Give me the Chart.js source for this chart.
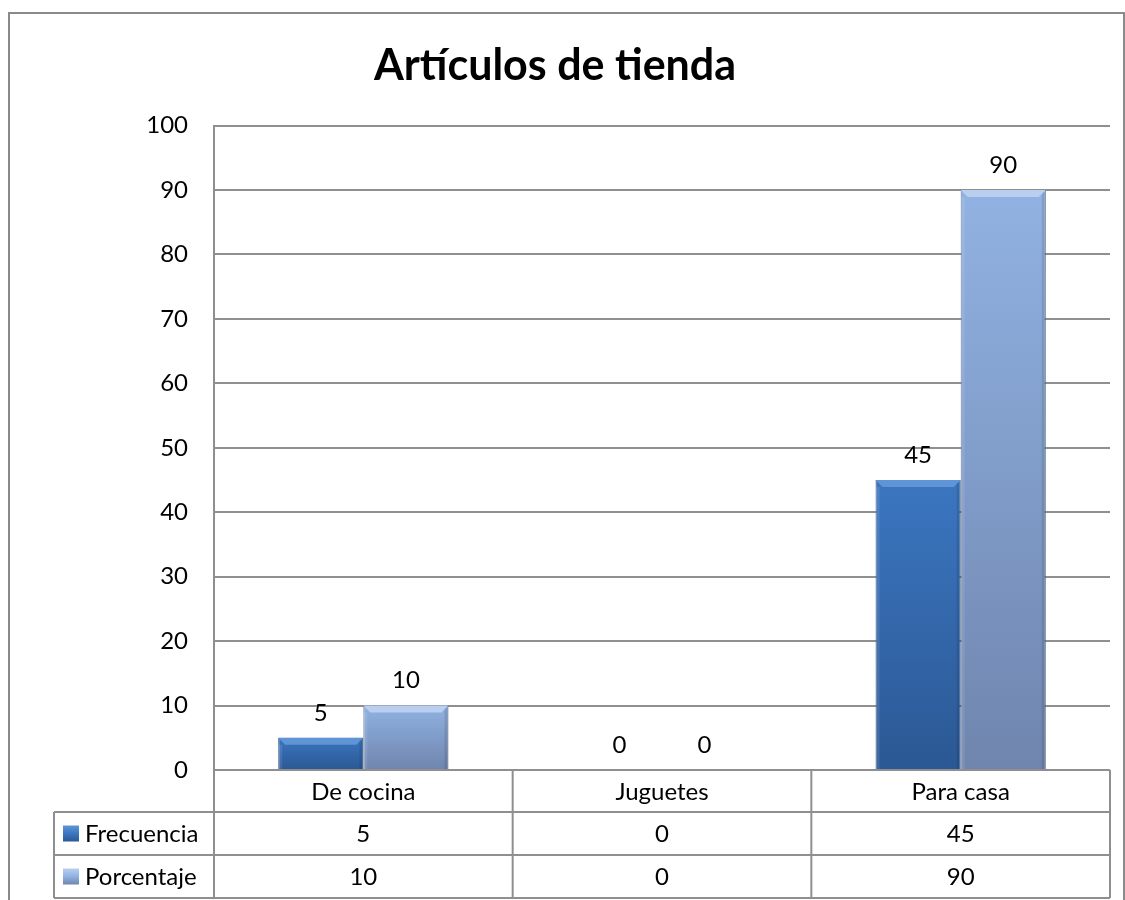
<!DOCTYPE html>
<html>
<head>
<meta charset="utf-8">
<script src="https://cdn.jsdelivr.net/npm/chart.js@4.4.1/dist/chart.umd.min.js"></script>
<style>
  html, body { margin: 0; padding: 0; background: #fff; }
  #marco {
    position: absolute; left: 8px; top: 12px; width: 1113px; height: 900px;
    border: 2px solid #8a8a8a; border-bottom: none;
  }
  #myChart { position: absolute; left: 0; top: 0; }
</style>
</head>
<body>
<div id="marco"></div>
<canvas id="myChart" width="1125" height="900"></canvas>
<script>
// datos
const categorias = ['De cocina', 'Juguetes', 'Para casa'];
const frecuencia = [5, 0, 45];
const porcentaje = [10, 0, 90];
const serieNombres = ['Frecuencia', 'Porcentaje'];
const ticksY = [0, 10, 20, 30, 40, 50, 60, 70, 80, 90, 100];

const colores = [
    { top: '#3b76c0', bottom: '#2b5894', bevel: '#5f95d6', edge: '#244d85' },
    { top: '#91b2e2', bottom: '#6f85ae', bevel: '#b9cff0', edge: '#5d7298' }
];

const fuente = 'Lato';
const GRIS = '#8f8f8f';

// degradado por barra, desde su valor hasta la base
function degradado(ctx, i) {
    const chart = ctx.chart;
    const y = chart.scales.y;
    if (!chart.chartArea || !y) return colores[i].top;
    const v = ctx.raw || 0;
    const top = y.getPixelForValue(v);
    const base = y.getPixelForValue(0);
    if (base - top < 1) return colores[i].top;
    const g = chart.ctx.createLinearGradient(0, top, 0, base);
    g.addColorStop(0, colores[i].top);
    g.addColorStop(1, colores[i].bottom);
    return g;
}

// biselado y etiquetas de valor
const barrasPlugin = {
    id: 'barras',
    afterDatasetsDraw(chart) {
        const c = chart.ctx;
        chart.data.datasets.forEach((ds, i) => {
            const meta = chart.getDatasetMeta(i);
            meta.data.forEach((bar, j) => {
                const left = bar.x - bar.width / 2;
                const right = bar.x + bar.width / 2;
                const top = bar.y;
                const base = bar.base;
                const h = base - top;
                c.save();
                if (h > 2) {
                    const b = Math.min(7, h / 2);
                    c.fillStyle = colores[i].bevel;
                    c.beginPath();
                    c.moveTo(left, top);
                    c.lineTo(right, top);
                    c.lineTo(right - b, top + b);
                    c.lineTo(left + b, top + b);
                    c.closePath();
                    c.fill();
                    c.fillStyle = 'rgba(0,0,0,0.10)';
                    c.beginPath();
                    c.moveTo(right, top);
                    c.lineTo(right, base);
                    c.lineTo(right - 4, base);
                    c.lineTo(right - 4, top + 4);
                    c.closePath();
                    c.fill();
                    c.fillStyle = 'rgba(255,255,255,0.10)';
                    c.fillRect(left, top + b, 4, h - b);
                }
                c.fillStyle = '#000';
                c.font = '24px ' + fuente;
                c.textAlign = 'center';
                c.textBaseline = 'middle';
                c.fillText(String(ds.data[j]), bar.x, top - 25);
                c.restore();
            });
        });
    }
};

// tabla de datos bajo el eje
const tablaPlugin = {
    id: 'tabla',
    afterDraw(chart) {
        const c = chart.ctx;
        const area = chart.chartArea;
        const x = chart.scales.x;
        const n = categorias.length;
        const ancho = (area.right - area.left) / n;
        const y0 = area.bottom;
        const y1 = y0 + 42;
        const y2 = y1 + 43;
        const y3 = y2 + 43;
        const xLeyenda = 54;

        c.save();
        c.strokeStyle = GRIS;
        c.lineWidth = 2;
        c.beginPath();
        for (let k = 0; k <= n; k++) {
            const xx = area.left + k * ancho;
            c.moveTo(xx, y0);
            c.lineTo(xx, y3);
        }
        [y1, y2, y3].forEach(yy => {
            c.moveTo(xLeyenda, yy);
            c.lineTo(area.right, yy);
        });
        c.moveTo(xLeyenda, y1);
        c.lineTo(xLeyenda, y3);
        c.stroke();

        c.fillStyle = '#000';
        c.font = '24px ' + fuente;
        c.textAlign = 'center';
        c.textBaseline = 'middle';
        const filas = [frecuencia, porcentaje];
        categorias.forEach((cat, k) => {
            const cx = x.getPixelForValue(k);
            c.fillText(cat, cx, (y0 + y1) / 2 + 1);
            c.fillText(String(filas[0][k]), cx, (y1 + y2) / 2 + 1);
            c.fillText(String(filas[1][k]), cx, (y2 + y3) / 2 + 1);
        });

        [[y1, y2], [y2, y3]].forEach((r, i) => {
            const cy = (r[0] + r[1]) / 2;
            const g = c.createLinearGradient(0, cy - 8, 0, cy + 8);
            g.addColorStop(0, colores[i].bevel);
            g.addColorStop(0.5, colores[i].top);
            g.addColorStop(1, colores[i].bottom);
            c.fillStyle = g;
            c.fillRect(63, cy - 8, 16, 16);
            c.fillStyle = '#000';
            c.textAlign = 'left';
            c.fillText(serieNombres[i], 85, cy + 1);
        });
        c.restore();
    }
};

function dibujar() {
    const ctx = document.getElementById('myChart').getContext('2d');
    Chart.defaults.font.family = fuente;
    Chart.defaults.color = '#000';

    new Chart(ctx, {
        type: 'bar',
        data: {
            labels: categorias,
            datasets: [
                { label: serieNombres[0], data: frecuencia, backgroundColor: c => degradado(c, 0),
                  borderColor: colores[0].edge, borderWidth: 1 },
                { label: serieNombres[1], data: porcentaje, backgroundColor: c => degradado(c, 1),
                  borderColor: colores[1].edge, borderWidth: 1 }
            ]
        },
        options: {
            responsive: false,
            animation: false,
            layout: { padding: { top: 0, left: 0, right: 15, bottom: 130 } },
            datasets: { bar: { categoryPercentage: 0.57, barPercentage: 1 } },
            scales: {
                x: { display: false },
                y: {
                    min: 0,
                    max: 100,
                    afterBuildTicks: s => { s.ticks = ticksY.map(v => ({ value: v })); },
                    afterFit: s => { s.width = 214; },
                    ticks: { font: { size: 24 }, color: '#000', padding: 26 },
                    grid: { color: GRIS, lineWidth: 2, drawTicks: false },
                    border: { color: GRIS, width: 2 }
                }
            },
            plugins: {
                legend: { display: false },
                tooltip: { enabled: false },
                title: {
                    display: true,
                    text: 'Artículos de tienda',
                    color: '#000',
                    font: { size: 43, weight: 'bold', lineHeight: 1.2 },
                    padding: { top: 40, bottom: 34 }
                }
            }
        },
        plugins: [barrasPlugin, tablaPlugin]
    });
}

document.fonts.load('24px Lato').then(() => document.fonts.load('bold 43px Lato')).then(dibujar, dibujar);
</script>
</body>
</html>
